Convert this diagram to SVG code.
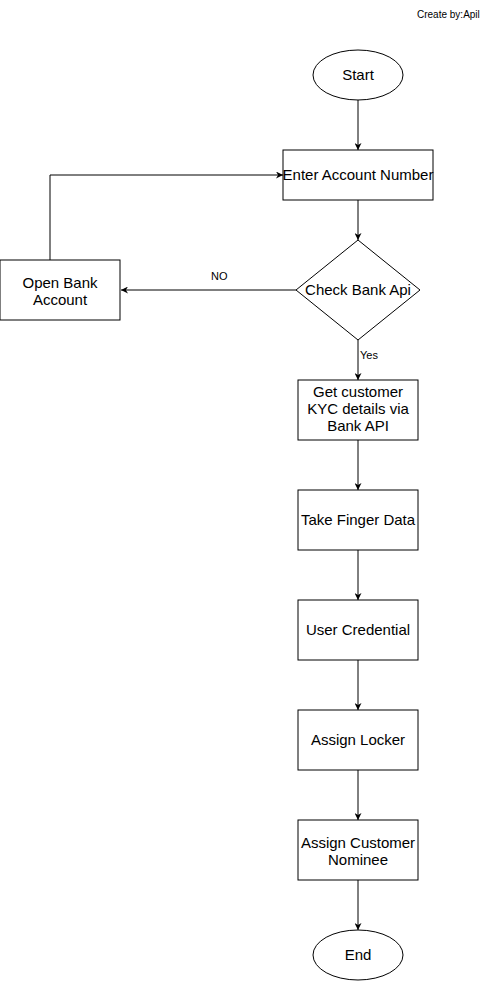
<svg xmlns="http://www.w3.org/2000/svg" width="501" height="981" viewBox="0 0 501 981">
<style>
.s{fill:#fff;stroke:#000;stroke-width:1}
.t{font-family:"Liberation Sans",Arial,sans-serif;font-size:15px;fill:#000;text-anchor:middle}
.l{font-family:"Liberation Sans",Arial,sans-serif;font-size:11px;fill:#000}
.c{fill:none;stroke:#000;stroke-width:1}
</style>
<defs>
<marker id="a" viewBox="0 0 10 10" refX="10" refY="5" markerWidth="7" markerHeight="7" markerUnits="userSpaceOnUse" orient="auto">
<path d="M0,0 L10,5 L0,10 L3,5 Z" fill="#000"/>
</marker>
</defs>
<rect width="501" height="981" fill="#fff"/>
<text class="l" x="417" y="18" style="font-size:10px">Create by:Apil</text>
<g id="connectors">
<path class="c" d="M358,100 V150" marker-end="url(#a)"/>
<path class="c" d="M358,200 V240" marker-end="url(#a)"/>
<path class="c" d="M296,290 H121" marker-end="url(#a)"/>
<path class="c" d="M50,260 V175 H283" marker-end="url(#a)"/>
<path class="c" d="M358,340 V380" marker-end="url(#a)"/>
<path class="c" d="M358,440 V490" marker-end="url(#a)"/>
<path class="c" d="M358,550 V600" marker-end="url(#a)"/>
<path class="c" d="M358,660 V710" marker-end="url(#a)"/>
<path class="c" d="M358,770 V820" marker-end="url(#a)"/>
<path class="c" d="M358,880 V930" marker-end="url(#a)"/>
<text class="l" x="211" y="280">NO</text>
<text class="l" x="360" y="359">Yes</text>
</g>
<g id="start"><ellipse class="s" cx="358" cy="75" rx="45" ry="25"/><text class="t" x="358" y="80">Start</text></g>
<g id="enter"><rect class="s" x="283" y="150" width="150" height="50"/><text class="t" x="358" y="180">Enter Account Number</text></g>
<g id="check"><polygon class="s" points="358,240 420,290 358,340 296,290"/><text class="t" x="358" y="295">Check Bank Api</text></g>
<g id="open"><rect class="s" x="0" y="260" width="120" height="60"/><text class="t" x="60" y="288">Open Bank</text><text class="t" x="60" y="305">Account</text></g>
<g id="kyc"><rect class="s" x="298" y="380" width="120" height="60"/><text class="t" x="358" y="397">Get customer</text><text class="t" x="358" y="414">KYC details via</text><text class="t" x="358" y="431">Bank API</text></g>
<g id="finger"><rect class="s" x="298" y="490" width="120" height="60"/><text class="t" x="358" y="525">Take Finger Data</text></g>
<g id="cred"><rect class="s" x="298" y="600" width="120" height="60"/><text class="t" x="358" y="635">User Credential</text></g>
<g id="locker"><rect class="s" x="298" y="710" width="120" height="60"/><text class="t" x="358" y="745">Assign Locker</text></g>
<g id="nominee"><rect class="s" x="298" y="820" width="120" height="60"/><text class="t" x="358" y="848">Assign Customer</text><text class="t" x="358" y="865">Nominee</text></g>
<g id="end"><ellipse class="s" cx="358" cy="955" rx="45" ry="25"/><text class="t" x="358" y="960">End</text></g>
</svg>
